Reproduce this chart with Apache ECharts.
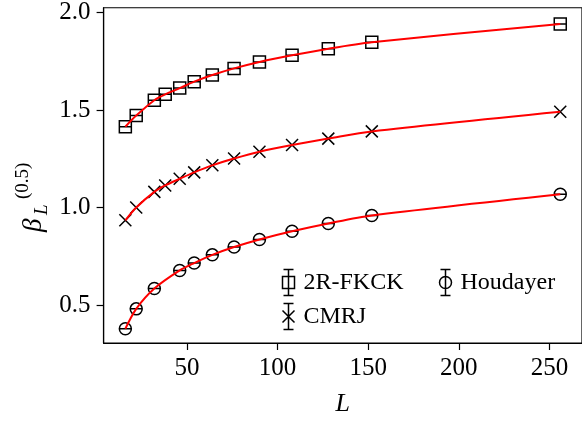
<!DOCTYPE html>
<html>
<head>
<meta charset="utf-8">
<script src="https://cdn.jsdelivr.net/npm/echarts@6/dist/echarts.min.js"></script>
<style>
html,body{margin:0;padding:0;background:#fff;}
#chart{width:582px;height:422px;}
</style>
</head>
<body>
<div id="chart"></div>
<script>
// ---- data ----
const L_FKCK = [16, 22, 32, 38, 46, 54, 64, 76, 90, 108, 128, 152, 256];
const beta_FKCK = [1.414, 1.471, 1.550, 1.580, 1.612, 1.645, 1.679, 1.713, 1.746, 1.780, 1.814, 1.847, 1.941];
const L_CMRJ = [16, 22, 32, 38, 46, 54, 64, 76, 90, 108, 128, 152, 256];
const beta_CMRJ = [0.934, 1.000, 1.080, 1.113, 1.147, 1.180, 1.216, 1.251, 1.286, 1.320, 1.353, 1.390, 1.491];
const L_Houd = [16, 22, 32, 46, 54, 64, 76, 90, 108, 128, 152, 256];
const beta_Houd = [0.378, 0.480, 0.584, 0.677, 0.715, 0.757, 0.797, 0.836, 0.878, 0.918, 0.959, 1.068];
const xTicks = [50, 100, 150, 200, 250];
const yTicks = [0.5, 1.0, 1.5, 2.0];
const seriesNames = ['2R-FKCK', 'CMRJ', 'Houdayer'];

const FONT = 'Liberation Serif';
const pairs = (xs, ys) => xs.map((x, i) => [x, ys[i]]);

const SYM_SQUARE = 'path://M0,0H12V12H0ZM0,6H12';
const SYM_CIRCLE = 'path://M0,6A6,6 0 1,1 12,6A6,6 0 1,1 0,6ZM0,6H12';
const SYM_CROSS = 'path://M0,0L12,12M12,0L0,12';
const LEG_SQUARE = 'path://M1,0H11M6,0V26M1,26H11M0,7H12V19H0Z';
const LEG_CROSS = 'path://M1,0H11M6,0V26M1,26H11M0,7L12,19M12,7L0,19';
const LEG_CIRCLE = 'path://M1,0H11M6,0V26M1,26H11M0,13A6,6 0 1,1 12,13A6,6 0 1,1 0,13Z';

function markers(name, xs, ys, sym) {
  return {
    name: name, type: 'scatter', z: 2,
    data: pairs(xs, ys),
    symbol: sym, symbolSize: 12,
    itemStyle: { color: 'none', borderColor: '#000', borderWidth: 1.5, opacity: 1 }
  };
}
function fit(name, xs, ys) {
  return {
    name: name + ' fit', type: 'line', z: 3,
    data: pairs(xs, ys), smooth: 0.3,
    showSymbol: false, symbol: 'none',
    lineStyle: { color: '#ff0000', width: 2 }
  };
}
const legText = { fontFamily: FONT, fontSize: 24, color: '#000', padding: [0, 0, 0, 4] };
const legStyle = { color: 'none', borderColor: '#000', borderWidth: 1.5 };

const chart = echarts.init(document.getElementById('chart'), null, { renderer: 'canvas' });
chart.setOption({
  animation: false,
  backgroundColor: '#fff',
  grid: { left: 103.6, width: 480.5, top: 7.3, height: 341, show: true, borderColor: '#000', borderWidth: 1.2, backgroundColor: 'transparent' },
  xAxis: {
    type: 'value', min: 4, max: 268,
    axisLine: { show: true, lineStyle: { color: '#000', width: 1.2 } },
    axisTick: { show: true, customValues: xTicks, length: 7, lineStyle: { color: '#000', width: 1.2 } },
    axisLabel: { customValues: xTicks, fontFamily: FONT, fontSize: 25, color: '#000', margin: 13 },
    splitLine: { show: false },
    name: 'L', nameLocation: 'middle', nameGap: 48,
    nameTextStyle: { fontFamily: FONT, fontStyle: 'italic', fontSize: 26, color: '#000' }
  },
  yAxis: {
    type: 'value', min: 0.305, max: 2.024,
    axisLine: { show: true, lineStyle: { color: '#000', width: 1.2 } },
    axisTick: { show: true, customValues: yTicks, length: 7, lineStyle: { color: '#000', width: 1.2 } },
    axisLabel: { customValues: yTicks, fontFamily: FONT, fontSize: 25, color: '#000', margin: 13,
      formatter: v => Number(v).toFixed(1) },
    splitLine: { show: false }
  },
  legend: [
    {
      orient: 'vertical', left: 280, top: 267, padding: 0, itemWidth: 12, itemHeight: 26, itemGap: 3,
      selectedMode: false, textStyle: legText,
      data: [
        { name: seriesNames[0], icon: LEG_SQUARE, itemStyle: legStyle },
        { name: seriesNames[1], icon: LEG_CROSS, itemStyle: legStyle }
      ]
    },
    {
      orient: 'vertical', left: 437, top: 267, padding: 0, itemWidth: 12, itemHeight: 26, itemGap: 3,
      selectedMode: false, textStyle: legText,
      data: [
        { name: seriesNames[2], icon: LEG_CIRCLE, itemStyle: legStyle }
      ]
    }
  ],
  graphic: [{
    type: 'group', x: 34, y: 232, rotation: Math.PI / 2,
    children: [
      { type: 'text', x: 0, y: 0, style: { text: 'β', font: 'italic 27px "Liberation Serif"', fill: '#000', align: 'left', verticalAlign: 'middle' } },
      { type: 'text', x: 17, y: 8, style: { text: 'L', font: 'italic 19px "Liberation Serif"', fill: '#000', align: 'left', verticalAlign: 'middle' } },
      { type: 'text', x: 33, y: -11, style: { text: '(0.5)', font: '19px "Liberation Serif"', fill: '#000', align: 'left', verticalAlign: 'middle' } }
    ]
  }],
  series: [
    markers(seriesNames[0], L_FKCK, beta_FKCK, SYM_SQUARE),
    markers(seriesNames[1], L_CMRJ, beta_CMRJ, SYM_CROSS),
    markers(seriesNames[2], L_Houd, beta_Houd, SYM_CIRCLE),
    fit(seriesNames[0], L_FKCK, beta_FKCK),
    fit(seriesNames[1], L_CMRJ, beta_CMRJ),
    fit(seriesNames[2], L_Houd, beta_Houd)
  ]
});
</script>
</body>
</html>
